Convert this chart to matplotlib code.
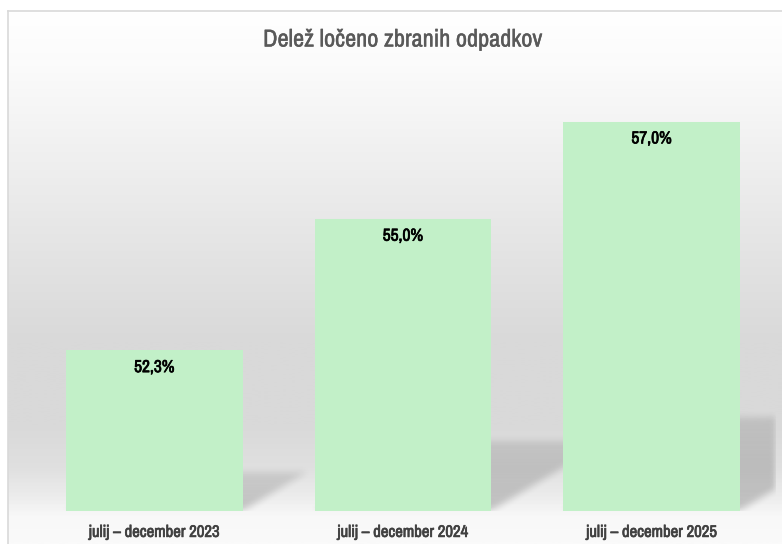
import numpy as np
import matplotlib
matplotlib.use('Agg')
import matplotlib.pyplot as plt
import matplotlib.patheffects as pe
from matplotlib import font_manager
from matplotlib.colors import LinearSegmentedColormap

categories = ['julij – december 2023', 'julij – december 2024', 'julij – december 2025']
values = [52.3, 55.0, 57.0]
title = 'Delež ločeno zbranih odpadkov'

# prefer a narrow face if one is installed
fm = font_manager.fontManager
narrow = sorted({f.name for f in fm.ttflist
                 if 'Narrow' in f.name or 'Condensed' in f.name})
if narrow:
    family = [narrow[0], 'DejaVu Sans']
    has_bold = any(f.name == narrow[0] and isinstance(f.weight, int)
                   and f.weight >= 600 for f in fm.ttflist)
else:
    family = ['DejaVu Sans']
    has_bold = True
plt.rcParams['font.family'] = family


def bold_kw(color, lw=0.5):
    # fake the bold weight with a thin stroke when the face has no bold file
    if has_bold:
        return dict(fontweight='bold')
    return dict(path_effects=[pe.withStroke(linewidth=lw, foreground=color)])


W, H = 782, 544
fig = plt.figure(figsize=(W / 100, H / 100), dpi=100)
fig.patch.set_facecolor('white')


def px(x0, y0, x1, y1):
    # pixel box (top-left origin) -> figure fraction rect
    return [x0 / W, 1 - y1 / H, (x1 - x0) / W, (y1 - y0) / H]


# chart area with its vertical gradient
bg = fig.add_axes(px(8, 11, 782, 544))
stops = [(0.00, '#ffffff'), (0.10, '#fbfbfb'), (0.25, '#f1f1f1'),
         (0.45, '#e4e4e4'), (0.62, '#d9d9d9'), (0.78, '#d9d9d9'),
         (0.86, '#e0e0e0'), (0.92, '#eeeeee'), (0.95, '#f8f8f8'),
         (1.00, '#fafafa')]
cmap = LinearSegmentedColormap.from_list('bg', stops)
grad = np.linspace(0, 1, 400).reshape(-1, 1)
bg.imshow(grad, aspect='auto', cmap=cmap, extent=[0, 1, 1, 0], vmin=0, vmax=1)
bg.set_xlim(0, 1)
bg.set_ylim(1, 0)
bg.set_xticks([])
bg.set_yticks([])
for side in ['right', 'bottom']:
    bg.spines[side].set_visible(False)
for side in ['left', 'top']:
    bg.spines[side].set_color('#d9d9d9')
    bg.spines[side].set_linewidth(1.2)

ax = fig.add_axes(px(30, 73, 776, 511))
ax.patch.set_alpha(0)
ymin, ymax = 49, 58
bar_w = 0.71
x = np.arange(len(values))

# soft perspective shadows behind the bars
nx, ny = 746, 438
gx = np.linspace(-0.5, 2.5, nx)
gy = np.linspace(ymin, ymax, ny)
XX, YY = np.meshgrid(gx, gy)
alpha = np.zeros_like(XX)
squash, skew = 0.24, 0.0784
for xi, v in zip(x, values):
    h = v - ymin
    yb = (YY - ymin) / squash
    xs = XX - skew * yb
    inside = (yb >= 0) & (yb <= h) & (xs >= xi - bar_w / 2) & (xs <= xi + bar_w / 2)
    fade = 1 - 0.45 * np.clip(yb / h, 0, 1)
    alpha = np.maximum(alpha, inside * fade)


def box_blur(a, k):
    kern = np.ones(k) / k
    a = np.apply_along_axis(lambda r: np.convolve(r, kern, mode='same'), 1, a)
    a = np.apply_along_axis(lambda c: np.convolve(c, kern, mode='same'), 0, a)
    return a


alpha = box_blur(box_blur(alpha, 9), 7)
rgba = np.zeros((ny, nx, 4))
rgba[..., 3] = 0.2 * alpha
ax.imshow(rgba, extent=[-0.5, 2.5, ymin, ymax], origin='lower',
          aspect='auto', zorder=1, interpolation='bilinear')

bars = ax.bar(x, values, width=bar_w, bottom=0, color='#c2f0c8', zorder=3)
for b, v in zip(bars, values):
    ax.annotate(f'{v:.1f}'.replace('.', ',') + '%',
                (b.get_x() + b.get_width() / 2, v), xytext=(0, -7),
                textcoords='offset points', ha='center', va='top',
                fontsize=12.5, color='#000000', zorder=4, **bold_kw('#000000'))

ax.set_xlim(-0.5, 2.5)
ax.set_ylim(ymin, ymax)
ax.set_xticks(x)
ax.set_xticklabels(categories, fontsize=12, color='#404040', **bold_kw('#404040'))
ax.tick_params(axis='x', length=0, pad=10)
ax.set_yticks([])
for s in ax.spines.values():
    s.set_visible(False)

fig.text(403 / W, 1 - 40 / H, title, ha='center', va='center',
         fontsize=17.5, color='#595959', **bold_kw('#595959', 0.3))

fig.savefig('out.png', dpi=100)
